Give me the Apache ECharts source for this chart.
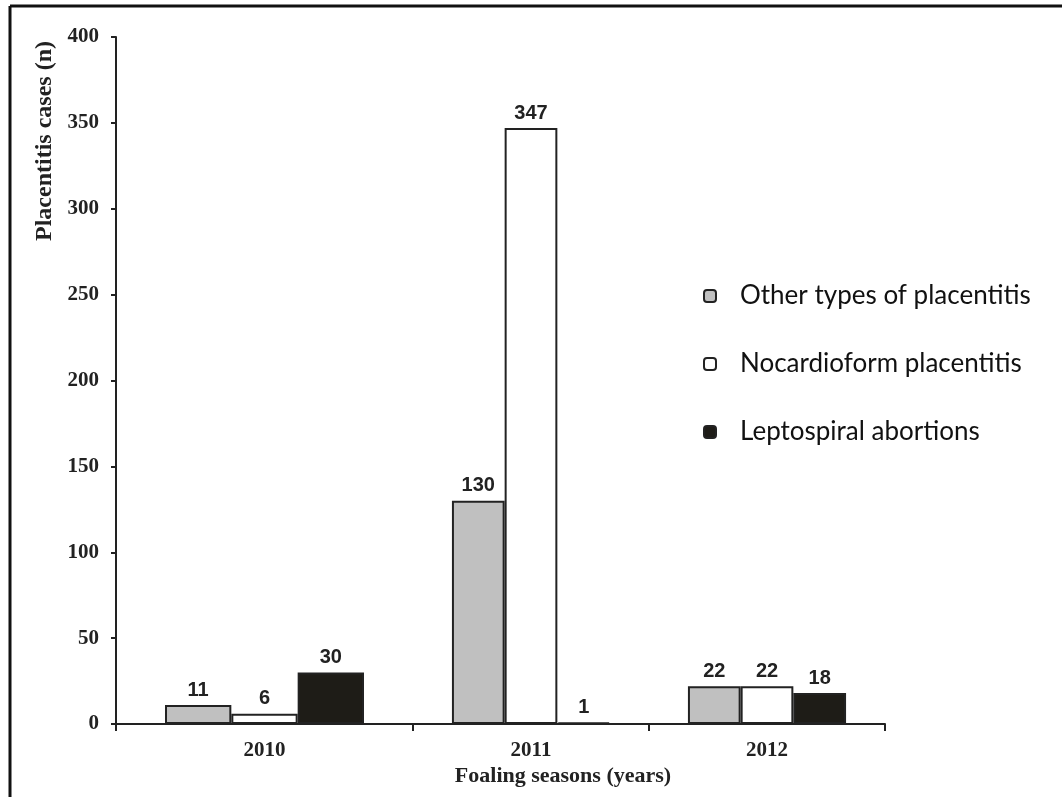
<!DOCTYPE html>
<html>
<head>
<meta charset="utf-8">
<script src="https://cdn.jsdelivr.net/npm/echarts@6/dist/echarts.min.js"></script>
<style>
  html, body { margin: 0; padding: 0; background: #fff; }
  #chart { width: 1062px; height: 797px; }
</style>
</head>
<body>
<div id="chart"></div>
<script>
const seasons = ["2010", "2011", "2012"];
const otherTypes = [11, 130, 22];
const nocardioform = [6, 347, 22];
const leptospiral = [30, 1, 18];
const yTicks = [0, 50, 100, 150, 200, 250, 300, 350, 400];

const serif = "'Liberation Serif', 'DejaVu Serif', serif";
const sans = "'Liberation Sans', Arial, sans-serif";
const ink = "#222";

// the original figure gives the first season a wider slot than the other two,
// so it is drawn as two grids sharing one y scale
const chart = echarts.init(document.getElementById("chart"));

function barSeries(name, data, color, idx) {
  return {
    name: name,
    type: "bar",
    xAxisIndex: idx,
    yAxisIndex: idx,
    data: idx === 0 ? data.slice(0, 1) : data.slice(1),
    barGap: "0%",
    barCategoryGap: "33%",
    itemStyle: { color: color, borderColor: ink, borderWidth: 2 },
    label: {
      show: true,
      position: "top",
      distance: 5,
      color: ink,
      fontFamily: sans,
      fontWeight: "bold",
      fontSize: 20
    }
  };
}

function xAxisFor(idx) {
  return {
    type: "category",
    gridIndex: idx,
    data: idx === 0 ? seasons.slice(0, 1) : seasons.slice(1),
    axisLine: { lineStyle: { color: ink, width: 2 } },
    axisTick: { show: true, length: 7, lineStyle: { color: ink, width: 2 } },
    axisLabel: { color: ink, fontFamily: serif, fontWeight: "bold", fontSize: 21, margin: 16 }
  };
}

function yAxisFor(idx) {
  return {
    type: "value",
    gridIndex: idx,
    min: yTicks[0],
    max: yTicks[yTicks.length - 1],
    interval: 50,
    show: idx === 0,
    splitLine: { show: false },
    axisLine: { show: true, lineStyle: { color: ink, width: 2 } },
    axisTick: { show: true, length: 5, lineStyle: { color: ink, width: 2 } },
    axisLabel: { color: ink, fontFamily: serif, fontWeight: "bold", fontSize: 21, margin: 17 }
  };
}

const colors = ["#c0c0c0", "#ffffff", "#1e1c17"];
const names = ["Other types of placentitis", "Nocardioform placentitis", "Leptospiral abortions"];
const values = [otherTypes, nocardioform, leptospiral];

const series = [];
[0, 1].forEach(function (g) {
  values.forEach(function (v, i) {
    series.push(barSeries(names[i], v, colors[i], g));
  });
});

chart.setOption({
  animation: false,
  grid: [
    { left: 116, top: 37, width: 297, bottom: 73 },
    { left: 413, top: 37, width: 472, bottom: 73 }
  ],
  graphic: [
    { type: "line", shape: { x1: 10, y1: 6, x2: 10, y2: 797 }, style: { stroke: "#111", lineWidth: 3 } },
    { type: "line", shape: { x1: 10, y1: 6, x2: 1062, y2: 6 }, style: { stroke: "#111", lineWidth: 3 } },
    {
      type: "text",
      x: 45,
      y: 141,
      rotation: Math.PI / 2,
      style: {
        text: "Placentitis cases (n)",
        align: "center",
        verticalAlign: "middle",
        fill: ink,
        font: "bold 24px " + serif
      }
    },
    {
      type: "text",
      x: 563,
      y: 776,
      style: {
        text: "Foaling seasons (years)",
        align: "center",
        verticalAlign: "middle",
        fill: ink,
        font: "bold 22px " + serif
      }
    }
  ],
  legend: {
    orient: "vertical",
    left: 698,
    top: 278,
    itemWidth: 12,
    itemHeight: 12,
    itemGap: 42,
    textStyle: {
      color: "#111",
      fontFamily: "Lato, 'Open Sans', sans-serif",
      fontSize: 26,
      padding: [0, 0, 0, 19]
    },
    data: names
  },
  xAxis: [xAxisFor(0), xAxisFor(1)],
  yAxis: [yAxisFor(0), yAxisFor(1)],
  series: series
});
</script>
</body>
</html>
